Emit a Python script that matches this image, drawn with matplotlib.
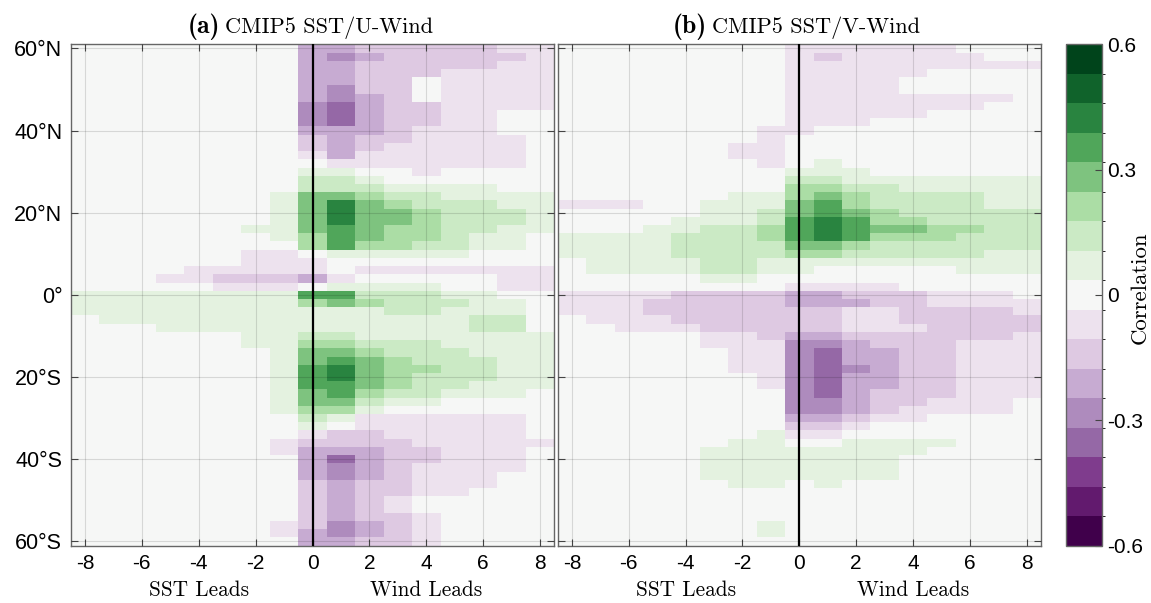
import numpy as np
import matplotlib
matplotlib.use("Agg")
import matplotlib.pyplot as plt
from matplotlib.colors import ListedColormap, BoundaryNorm

plt.rcParams['mathtext.fontset'] = 'cm'
plt.rcParams['axes.unicode_minus'] = False

# ---------------- data ----------------
lags = list(range(-8, 9))                 # columns: lag -8 ... 8
lats = list(range(60, -61, -2))           # rows: 60N ... 60S
n_levels = 17
vmin, vmax = -0.6, 0.6
cbar_ticks = [-0.6, -0.3, 0, 0.3, 0.6]
cbar_ticklabels = ["-0.6", "-0.3", "0", "0.3", "0.6"]
lat_ticks = [-60, -40, -20, 0, 20, 40, 60]
lat_ticklabels = ["60°S", "40°S", "20°S", "0°", "20°N", "40°N", "60°N"]
lag_ticks = [-8, -6, -4, -2, 0, 2, 4, 6, 8]
lag_ticklabels = ["-8", "-6", "-4", "-2", "0", "2", "4", "6", "8"]

# correlation class per cell: '.'=0, '1'..'8' = +1..+8 classes, 'a'..'h' = -1..-8 classes
u_wind_rows = [
    "........ccbbbbbaa",  # 60
    "........cdcbbbbba",  # 58
    "........ccbbbbbaa",  # 56
    "........ccbbbaaaa",  # 54
    "........ccbb.aaaa",  # 52
    "........cdbb.aaaa",  # 50
    "........cdcb.aaaa",  # 48
    "........decbbaaaa",  # 46
    "........decbbaa..",  # 44
    "........decbbaa..",  # 42
    "........cccbaaa..",  # 40
    "........bcbbaaaa.",  # 38
    "........bcbaaaaa.",  # 36
    "........acaaaaaa.",  # 34
    ".........aaaaaaa.",  # 32
    "........11..a....",  # 30
    "........221......",  # 28
    "........2221111..",  # 26
    ".......1443221111",  # 24
    ".......1464322211",  # 22
    ".......1464432221",  # 20
    ".......1464432221",  # 18
    "......11454332211",  # 16
    ".......135433211.",  # 14
    "........35332211.",  # 12
    "......aa.11111...",  # 10
    "......aaa........",  # 8
    "....aaaaa.aaaaaaa",  # 6
    "...aabbbca.....aa",  # 4
    ".....aaa.1111..aa",  # 2
    "111111115522211..",  # 0
    "1111111134322211.",  # -2
    "1111111111122111.",  # -4
    ".111111111111122.",  # -6
    "...1111111111122.",  # -8
    "......11221111111",  # -10
    "......11332221111",  # -12
    ".......1443222111",  # -14
    ".......1454322211",  # -16
    ".......1564332211",  # -18
    ".......1564322211",  # -20
    ".......1554322111",  # -22
    ".......145322111.",  # -24
    ".......144211....",  # -26
    ".......1331......",  # -28
    "........21aaaaaa.",  # -30
    "........1.aaaaaa.",  # -32
    "........abbaaaaa.",  # -34
    ".......abbbbaaaaa",  # -36
    ".......acccbbaaa.",  # -38
    "........cecbbaaa.",  # -40
    "........cdcbaaaa.",  # -42
    "........cdcbaaa..",  # -44
    "........bcbbaaa..",  # -46
    "........bcbbaa...",  # -48
    "........bcba.....",  # -50
    "........bcba.....",  # -52
    "........bcbba....",  # -54
    ".......abdcba....",  # -56
    ".......acdcba....",  # -58
    "........ccbba....",  # -60
]

v_wind_rows = [
    "........aaaaaa...",  # 60
    "........abaaaaa..",  # 58
    "........aaaaaaaaa",  # 56
    "........aaaaa....",  # 54
    "........aaaa.....",  # 52
    "........aaaa.....",  # 50
    "........aaaaaaaa.",  # 48
    "........aaaaaaa..",  # 46
    "........aaaaa....",  # 44
    "........aaa......",  # 42
    ".......aa........",  # 40
    ".......a.........",  # 38
    "......aa.........",  # 36
    "......aa.........",  # 34
    ".......a.1.......",  # 32
    "........111......",  # 30
    "........221111111",  # 28
    "........332211111",  # 26
    "......11343222211",  # 24
    "aaa..111453222211",  # 22
    ".....112454322222",  # 20
    "....1112565332222",  # 18
    "...11223565443322",  # 16
    "11112223565333222",  # 14
    "11112222443222222",  # 12
    "11112222332222211",  # 10
    ".1111221111111111",  # 8
    ".11112211.....111",  # 6
    ".....11..........",  # 4
    "........aaaa.....",  # 2
    "aaaabbbbccbbbaaa.",  # 0
    "aaabbbbbcccbbaaaa",  # -2
    "aaabbbbbbbaabbbba",  # -4
    ".aaabbbbbbaabbbbb",  # -6
    "..aaabbbbbaaabbbb",  # -8
    ".....aabccbbbbbba",  # -10
    ".....aaaddcbbbaaa",  # -12
    "......aadeccbbaaa",  # -14
    "......aadeccbbaaa",  # -16
    "......aadedcbbaaa",  # -18
    ".......adeccbbaaa",  # -20
    ".......adeccbbaaa",  # -22
    "........decbbbaaa",  # -24
    "........ddcbbaaa.",  # -26
    "........ddcbaaaa.",  # -28
    "........ccbaa....",  # -30
    "........bba......",  # -32
    ".......1aa.......",  # -34
    "......11..1111...",  # -36
    ".....11111111....",  # -38
    ".....1111111.....",  # -40
    ".....1111111.....",  # -42
    ".....1111111.....",  # -44
    "......11.1.......",  # -46
    ".................",  # -48
    ".................",  # -50
    ".................",  # -52
    ".................",  # -54
    ".......1.........",  # -56
    ".......1.........",  # -58
    ".................",  # -60
]

panel_tags = ["(a)", "(b)"]
panel_titles = ["CMIP5 SST/U-Wind", "CMIP5 SST/V-Wind"]

# ---------------- helpers ----------------
code = {'.': 0}
for i, ch in enumerate("12345678"):
    code[ch] = i + 1
for i, ch in enumerate("abcdefgh"):
    code[ch] = -(i + 1)
step = (vmax - vmin) / n_levels


def decode(rows):
    return np.array([[code[c] for c in r[:17].ljust(17, '.')] for r in rows], dtype=float) * step


cmap = ListedColormap(plt.get_cmap('PRGn')(np.linspace(0, 1, n_levels)))
bounds = np.linspace(vmin, vmax, n_levels + 1)
norm = BoundaryNorm(bounds, cmap.N)

W, H = 1151, 603
fig = plt.figure(figsize=(W / 100, H / 100), dpi=100)

top_px, bot_px = 44.3, 545.5
ax_rects = [(70.7, 554.3), (557.7, 1041.0)]
axes = []
for (x0, x1) in ax_rects:
    axes.append(fig.add_axes([x0 / W, (H - bot_px) / H, (x1 - x0) / W, (bot_px - top_px) / H]))
cax = fig.add_axes([1066 / W, (H - bot_px) / H, 35.5 / W, (bot_px - top_px) / H])

spine_col = '#666666'
for k, (ax, rows) in enumerate(zip(axes, [u_wind_rows, v_wind_rows])):
    Z = decode(rows)
    ax.pcolormesh(lags, lats, Z, cmap=cmap, norm=norm, shading='nearest', zorder=0)
    ax.set_xlim(-8.5, 8.5)
    ax.set_ylim(-61, 61)
    ax.axvline(0, color='black', lw=1.6, zorder=3)
    ax.set_xticks(lag_ticks)
    ax.set_xticklabels(lag_ticklabels, fontsize=15, family='Liberation Sans')
    ax.set_yticks(lat_ticks)
    if k == 0:
        ax.set_yticklabels(lat_ticklabels, fontsize=15.5, family='Liberation Sans')
    else:
        ax.set_yticklabels([])
    ax.grid(True, color='#000000', alpha=0.13, lw=0.8, zorder=2)
    ax.set_axisbelow(False)
    ax.tick_params(direction='in', length=5, width=0.8, color='#444444',
                   top=True, right=True, pad=6)
    for s in ax.spines.values():
        s.set_color(spine_col)
        s.set_linewidth(1.0)
    ax.text(0.3095, 1.022, panel_tags[k], transform=ax.transAxes, ha='right', va='baseline',
            family='cmb10', fontsize=18.5)
    ax.text(0.3195, 1.022, panel_titles[k], transform=ax.transAxes, ha='left', va='baseline',
            family='cmr10', fontsize=16)
    ax.text(-4, -0.07, "SST Leads", transform=ax.get_xaxis_transform(),
            ha='center', va='top', family='cmr10', fontsize=15.3)
    ax.text(4, -0.07, "Wind Leads", transform=ax.get_xaxis_transform(),
            ha='center', va='top', family='cmr10', fontsize=15.3)

sm = matplotlib.cm.ScalarMappable(norm=norm, cmap=cmap)
cb = fig.colorbar(sm, cax=cax, boundaries=bounds, ticks=cbar_ticks)
cb.ax.set_yticklabels(cbar_ticklabels, fontsize=15, family='Liberation Sans')
cb.ax.tick_params(direction='in', length=5, width=0.8, color='#444444', pad=4)
cb.outline.set_edgecolor(spine_col)
cb.outline.set_linewidth(1.0)
fig.text(1140 / W, (H - 288) / H, "Correlation", rotation=90, ha='center', va='center',
         family='cmr10', fontsize=16.5)

fig.savefig("out.png", dpi=100)
